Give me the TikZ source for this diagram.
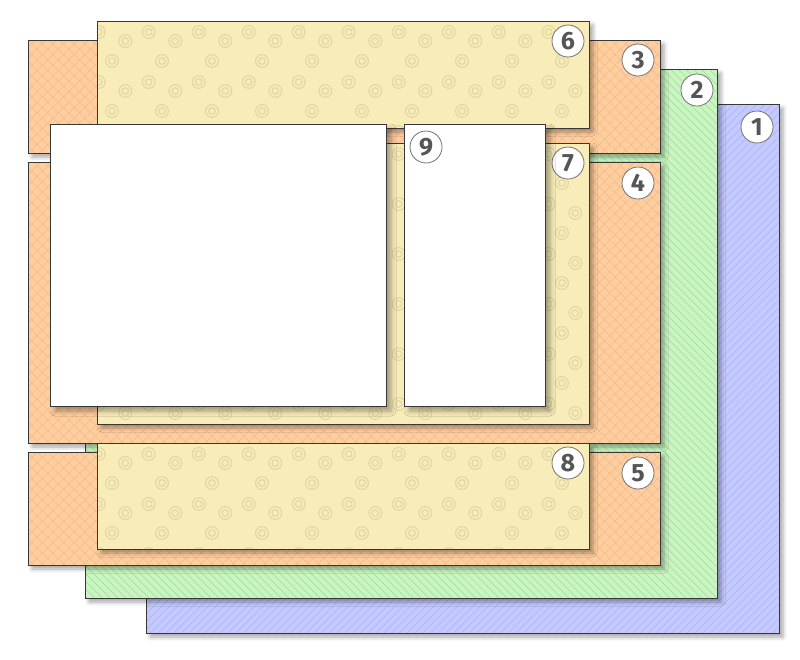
\documentclass[tikz,border=0pt]{standalone}
\usepackage{fontspec}
\setmainfont{Fira Sans}
\usetikzlibrary{patterns.meta,shadows.blur}
\definecolor{cblue}{RGB}{196,201,255}
\definecolor{cbluel}{RGB}{165,170,232}
\definecolor{cgreen}{RGB}{200,245,192}
\definecolor{cgreenl}{RGB}{155,205,150}
\definecolor{corange}{RGB}{255,206,158}
\definecolor{corangel}{RGB}{238,180,134}
\definecolor{cyellow}{RGB}{248,236,185}
\definecolor{cyellowl}{RGB}{226,214,164}
\definecolor{cedge}{RGB}{55,55,55}
\definecolor{cdigit}{RGB}{85,85,85}
\tikzset{
  box/.style={draw=cedge, line width=0.9pt, anchor=north west, inner sep=0pt, outer sep=0pt,
    blur shadow={shadow xshift=4pt, shadow yshift=-4pt, shadow blur radius=4pt, shadow opacity=35}},
  bluebox/.style={box, preaction={fill=cblue}, preaction={pattern={Lines[angle=45,distance=5.5pt,line width=0.35pt]}, pattern color=cbluel}},
  greenbox/.style={box, preaction={fill=cgreen}, preaction={pattern={Lines[angle=-45,distance=5.5pt,line width=0.35pt]}, pattern color=cgreenl}},
  orangebox/.style={box, preaction={fill=corange}, preaction={pattern={Hatch[angle=45,distance=7.5pt,line width=0.35pt]}, pattern color=corangel}},
  yellowbox/.style={box, fill=cyellow},
  whitebox/.style={draw=cedge, line width=0.9pt, anchor=north west, inner sep=0pt, outer sep=0pt,
    blur shadow={shadow xshift=5pt, shadow yshift=-5pt, shadow blur radius=5pt, shadow opacity=35}, fill=white},
  badge/.style={circle, draw=black!55, fill=white, line width=0.8pt, minimum size=32pt, inner sep=0pt,
    font=\bfseries\fontsize{25}{25}\selectfont, text=cdigit},
  ring/.style={draw=cyellowl, line width=1.1pt}
}
\newcommand{\mydots}[4]{%
  \begin{scope}
    \clip (#1+1,#2+1) rectangle (#1+#3-1,#2+#4-1);
    \foreach \i in {0,...,10}{%
      \foreach \j in {0,...,6}{%
        \foreach \dx/\dy in {1.7/11, 28.3/20, 15/40}{%
          \draw[ring] ({#1+\i*50+\dx},{#2+\j*50+\dy}) circle[radius=6.4];
          \draw[ring] ({#1+\i*50+\dx},{#2+\j*50+\dy}) circle[radius=3.3];
        }}}
  \end{scope}}
\begin{document}
\begin{tikzpicture}[x=1pt,y=-1pt]
\useasboundingbox (0,0) rectangle (800,659);
\node[bluebox, minimum width=633pt, minimum height=529pt] (b1) at (146,104) {};
\node[badge] (n1) at (757,127) {1};
\node[greenbox, minimum width=632pt, minimum height=529pt] (g2) at (85,69) {};
\node[badge] (n2) at (697,90) {2};
\node[orangebox, minimum width=632pt, minimum height=113pt] (o3) at (28,40) {};
\node[badge] (n3) at (638,60) {3};
\node[orangebox, minimum width=632pt, minimum height=281pt] (o4) at (28,162) {};
\node[badge] (n4) at (638,183) {4};
\node[orangebox, minimum width=632pt, minimum height=113pt] (o5) at (28,452) {};
\node[badge] (n5) at (638,473) {5};
\node[yellowbox, minimum width=492pt, minimum height=107pt] (y6) at (97,21) {};
\mydots{97}{21}{492}{107}
\node[badge] (n6) at (568,41) {6};
\node[yellowbox, minimum width=492pt, minimum height=281pt] (y7) at (97,143) {};
\mydots{97}{143}{492}{281}
\node[badge] (n7) at (568,163) {7};
\node[yellowbox, minimum width=492pt, minimum height=106pt] (y8) at (97,443) {};
\mydots{97}{443}{492}{106}
\node[badge] (n8) at (568,463) {8};
\node[whitebox, minimum width=336pt, minimum height=282pt] (w0) at (50,124) {};
\node[whitebox, minimum width=141pt, minimum height=282pt] (w9) at (404,124) {};
\node[badge] (n9) at (426,147) {9};
\end{tikzpicture}
\end{document}
